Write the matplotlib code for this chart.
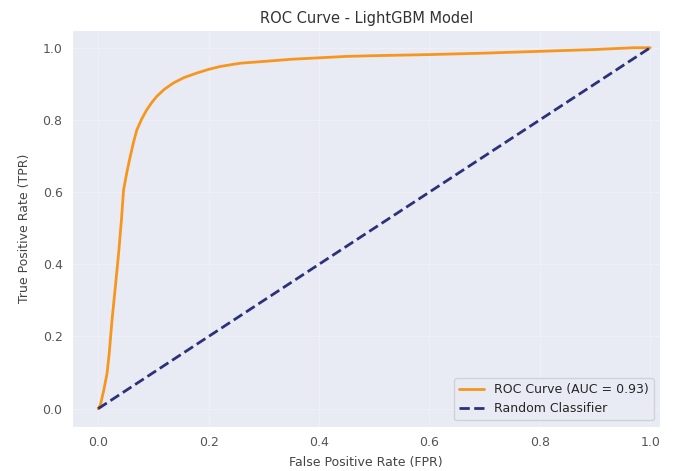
import numpy as np
import matplotlib
matplotlib.use("Agg")
import matplotlib.pyplot as plt
import seaborn as sns

# ROC points
fpr = [0.0, 0.004, 0.010, 0.016, 0.020, 0.025, 0.031, 0.037, 0.042, 0.046,
       0.052, 0.058, 0.064, 0.070, 0.079, 0.088, 0.097, 0.106, 0.120, 0.136,
       0.155, 0.179, 0.200, 0.221, 0.257, 0.30, 0.35, 0.40, 0.45, 0.50,
       0.60, 0.70, 0.80, 0.90, 0.97, 1.0]
tpr = [0.0, 0.01, 0.05, 0.097, 0.153, 0.244, 0.336, 0.43, 0.52, 0.606,
       0.655, 0.698, 0.738, 0.772, 0.803, 0.828, 0.848, 0.865, 0.885, 0.902,
       0.917, 0.930, 0.940, 0.948, 0.957, 0.962, 0.968, 0.972, 0.976, 0.978,
       0.981, 0.985, 0.990, 0.995, 1.0, 1.0]
auc_score = 0.93

diag = [0, 1]

sns.set_style('darkgrid', {'axes.facecolor': '#e9ebf4', 'grid.color': '#eff0f7'})
plt.rcParams['font.family'] = ['DejaVu Sans']

fig = plt.figure(figsize=(6.75, 4.71), dpi=100)
ax = fig.add_axes([0.107, 0.094, 0.871, 0.843])

ax.plot(fpr, tpr, color='#f7961e', lw=2, label=f'ROC Curve (AUC = {auc_score:.2f})')
ax.plot(diag, diag, color='#2c3178', lw=2, linestyle='--', label='Random Classifier')

ax.set_xlim(-0.047, 1.018)
ax.set_ylim(-0.05, 1.05)
ax.set_xticks(np.arange(0, 1.01, 0.2))
ax.set_yticks(np.arange(0, 1.01, 0.2))
ax.grid(True, lw=0.8)
ax.tick_params(labelsize=9, colors='#555555')

ax.set_xlabel('False Positive Rate (FPR)', fontsize=9, color='#444444', labelpad=5)
ax.set_ylabel('True Positive Rate (TPR)', fontsize=9, color='#444444', labelpad=8)
ax.set_title('ROC Curve - LightGBM Model', fontsize=10.5, color='#333333', pad=5)
ax.legend(loc='lower right', fontsize=9)

fig.savefig('out.png', dpi=100)
